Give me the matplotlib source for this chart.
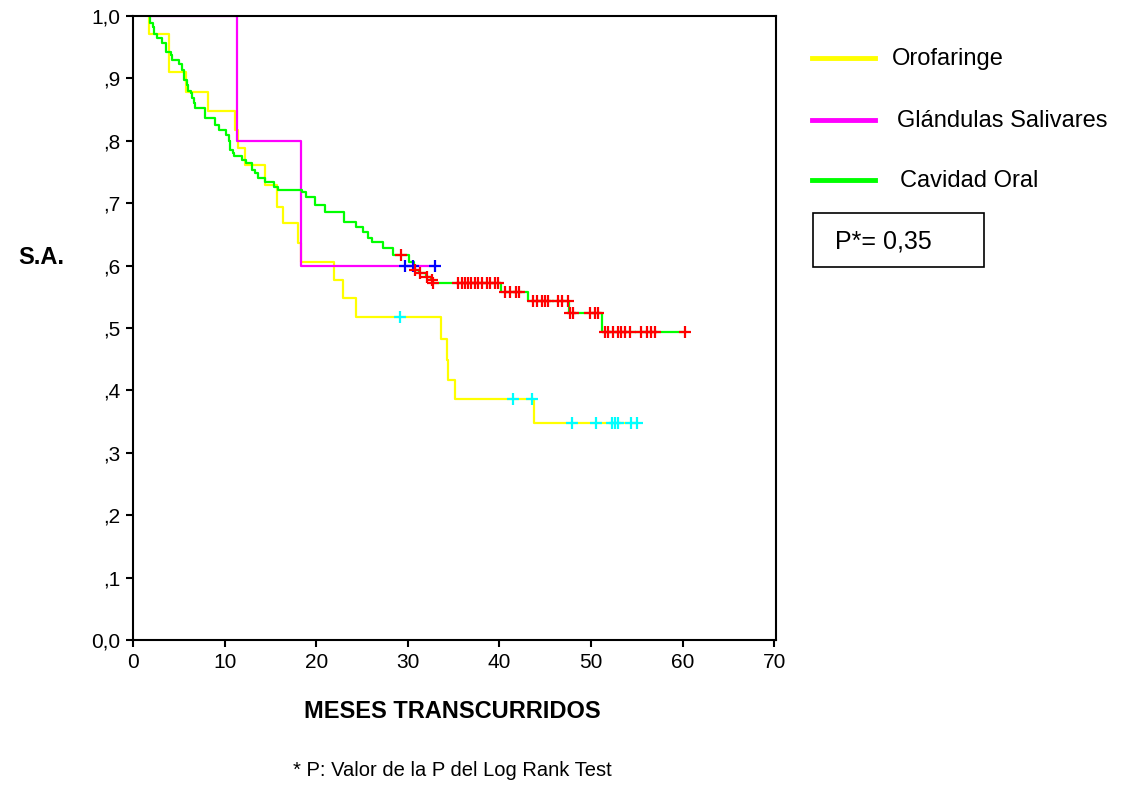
import numpy as np
import matplotlib
matplotlib.use("Agg")
import matplotlib.pyplot as plt
from matplotlib.lines import Line2D

plt.rcParams['font.family'] = ['Liberation Sans', 'DejaVu Sans']

# Curvas de supervivencia (Kaplan-Meier)
groups = ["Orofaringe", "Glándulas Salivares", "Cavidad Oral"]

# Orofaringe
oro_start = 1.7
oro_t = [1.7, 3.96, 5.8, 8.2, 11.1, 11.5, 12.2, 14.4, 15.7, 16.4, 18.05, 18.3,
         21.9, 22.9, 24.3, 33.6, 34.25, 34.4, 35.15, 43.8]
oro_s = [.971, .911, .879, .848, .817, .788, .761, .729, .694, .668, .636, .606,
         .577, .548, .517, .483, .449, .417, .387, .348]
oro_cens = [29.1, 41.45, 43.6, 47.9, 50.5, 52.3, 52.6, 53.0, 54.4, 55.0]

# Glandulas salivares
gla_start = 1.86
gla_t = [11.3, 18.3]
gla_s = [.80, .60]
gla_cens = [29.7, 30.6, 33.0]

# Cavidad oral
cav_start = 1.86
cav_t = [1.9, 2.15, 2.3, 2.65, 3.2, 3.6, 4.1, 4.3, 5.05, 5.4, 5.6, 5.86, 6.0,
         6.3, 6.45, 6.7, 6.8, 7.85, 8.95, 9.35, 10.2, 10.5, 10.6, 10.9, 11.05,
         11.85, 12.3, 12.95, 13.3, 13.7, 14.4, 15.4, 15.8, 18.4, 18.9, 19.9,
         21.0, 23.0, 24.4, 25.1, 25.7, 26.05, 27.3, 28.4, 30.1, 30.7, 31.2,
         32.0, 32.5, 32.7, 40.2, 43.1, 47.6, 51.2]
cav_s = [.988, .982, .971, .964, .957, .943, .937, .930, .923, .913, .897, .889,
         .880, .876, .868, .861, .852, .836, .825, .818, .809, .800, .785, .780,
         .775, .769, .764, .754, .748, .740, .734, .726, .721, .718, .710, .697,
         .686, .670, .662, .654, .644, .638, .628, .617, .606, .593, .588, .582,
         .577, .572, .558, .544, .524, .494]
cav_cens = [29.3, 30.8, 31.3, 32.1, 32.6, 32.8,
            35.5, 35.9, 36.2, 36.6, 36.95, 37.3, 37.7, 38.1, 38.6, 39.0, 39.5, 39.9,
            40.6, 41.2, 41.8, 42.1,
            43.7, 44.1, 44.6, 45.0, 45.3, 46.4, 46.8, 47.5, 47.7, 48.0,
            49.9, 50.4, 50.8,
            51.5, 51.9, 52.4, 53.0, 53.3, 53.7, 54.3, 55.5, 56.1, 56.6, 57.0, 60.3]

line_colors = ["#ffff00", "#ff00ff", "#00ff00"]
cens_colors = ["#00ffff", "#0000ff", "#ff0000"]

W, H = 1142, 785


def fx(px):
    return px / W


def fy(py):
    return 1 - py / H


def surv_at(t, ev_t, ev_s):
    i = np.searchsorted(ev_t, t, side="right")
    return 1.0 if i == 0 else ev_s[i - 1]


fig = plt.figure(figsize=(W / 100, H / 100), dpi=100)
ax = fig.add_axes([fx(133), fy(640), fx(776) - fx(133), fy(16) - fy(640)])

data = [(oro_start, oro_t, oro_s, oro_cens),
        (gla_start, gla_t, gla_s, gla_cens),
        (cav_start, cav_t, cav_s, cav_cens)]

for (t0, ev_t, ev_s, cens), lc, cc in zip(data, line_colors, cens_colors):
    end = max(max(cens), ev_t[-1])
    xs = [t0] + list(ev_t) + [end]
    ys = [1.0] + list(ev_s) + [ev_s[-1]]
    ax.plot(xs, ys, drawstyle="steps-post", color=lc, lw=1.6, zorder=2)
    cy = [surv_at(c, ev_t, ev_s) for c in cens]
    ax.plot(cens, cy, ls="none", marker="+", ms=9, mew=1.6, color=cc, zorder=3)

ax.set_xlim(0, 70.2)
ax.set_ylim(0, 1)
ax.set_xticks(range(0, 71, 10))
ax.set_yticks(np.arange(0, 1.01, 0.1))
ax.set_yticklabels(["0,0", ",1", ",2", ",3", ",4", ",5", ",6", ",7", ",8", ",9", "1,0"])
ax.tick_params(direction="out", length=5, width=1.5, labelsize=15, colors="black", pad=4)
for sp in ax.spines.values():
    sp.set_linewidth(1.5)

fig.text(fx(41), fy(258), "S.A.", fontsize=17, fontweight="bold", ha="center", va="center")
fig.text(fx(452), fy(712), "MESES TRANSCURRIDOS", fontsize=17, fontweight="bold",
         ha="center", va="center")
fig.text(fx(452), fy(770), "* P: Valor de la P del Log Rank Test", fontsize=14.5,
         ha="center", va="center")

# leyenda manual
leg_y = [58, 120, 180]
leg_x = [892, 897, 900]
for name, c, y, tx in zip(groups, line_colors, leg_y, leg_x):
    fig.add_artist(Line2D([fx(812), fx(875)], [fy(y), fy(y)], color=c, lw=3.5))
    fig.text(fx(tx), fy(y + 1), name, fontsize=17, ha="left", va="center")

fig.add_artist(plt.Rectangle((fx(813), fy(267)), fx(984) - fx(813), fy(213) - fy(267),
                             fill=False, edgecolor="black", lw=1.2))
fig.text(fx(835), fy(242), "P*= 0,35", fontsize=18, ha="left", va="center")

fig.savefig("out.png", dpi=100)
